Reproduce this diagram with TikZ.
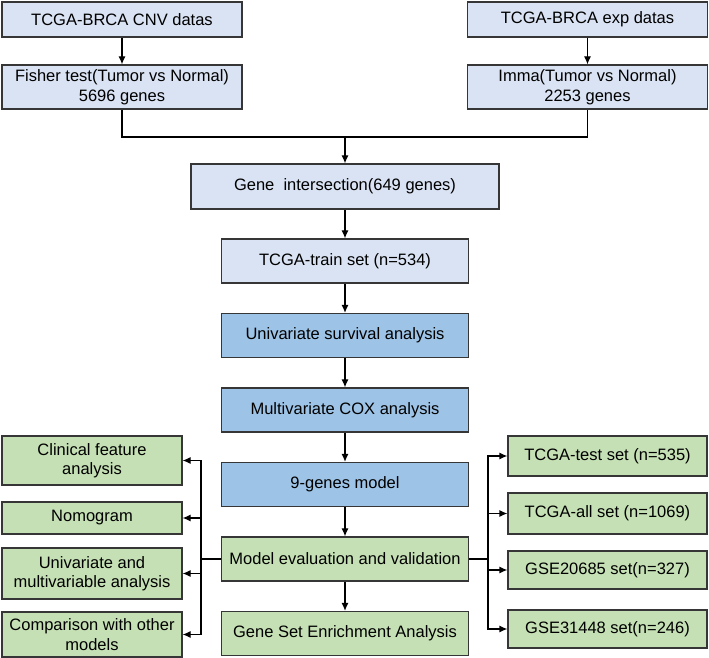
\documentclass[tikz,border=0pt]{standalone}
\usepackage{fontspec}
\setmainfont{Liberation Sans}
\usepackage{xcolor}
\usepackage{tikz}
\usetikzlibrary{arrows.meta}

\definecolor{paleblue}{HTML}{DAE3F3}
\definecolor{midblue}{HTML}{9DC3E6}
\definecolor{palegreen}{HTML}{C5E0B4}
\definecolor{boxline}{HTML}{363636}

\tikzset{
  lightbox/.style={draw=boxline, fill=paleblue, rectangle, line width=1.2pt, align=center, inner sep=0pt},
  bluebox/.style={draw=boxline, fill=midblue, rectangle, line width=1.2pt, align=center, inner sep=0pt},
  greenbox/.style={draw=boxline, fill=palegreen, rectangle, line width=1.2pt, align=center, inner sep=0pt}
}

\begin{document}
\begin{tikzpicture}[x=1pt, y=1pt, node distance=74.5pt, >={Latex[length=8pt,width=7pt]}, line width=1.2pt, font=\fontsize{16.5}{19.5}\selectfont]
    \useasboundingbox (0,0) rectangle (709,658);
    % Nodes
    \node[lightbox, minimum width=240pt, minimum height=35pt] (cnv) at (122,638.5) {TCGA-BRCA CNV datas};
    \node[lightbox, below of=cnv, node distance=67.5pt, minimum width=240pt, minimum height=44pt] (fisher) {Fisher test(Tumor vs Normal)\\5696 genes};
    \node[lightbox, minimum width=240pt, minimum height=35pt] (exp) at (587.5,638.5) {TCGA-BRCA exp datas};
    \node[lightbox, below of=exp, node distance=67.5pt, minimum width=240pt, minimum height=44pt] (imma) {Imma(Tumor vs Normal)\\2253 genes};
    \node[lightbox, minimum width=308pt, minimum height=45pt] (gene) at (345,471.5) {Gene\ \ intersection(649 genes)};
    \node[lightbox, below of=gene, minimum width=247pt, minimum height=44pt] (train) {TCGA-train set (n=534)};
    \node[bluebox, below of=train, minimum width=247pt, minimum height=44pt] (univariate) {Univariate survival analysis};
    \node[bluebox, below of=univariate, minimum width=247pt, minimum height=44pt] (multivariate) {Multivariate COX analysis};
    \node[bluebox, below of=multivariate, minimum width=247pt, minimum height=44pt] (model) {9-genes model};
    \node[greenbox, below of=model, minimum width=247pt, minimum height=44pt] (evaluation) {Model evaluation and validation};
    \node[greenbox, below of=evaluation, minimum width=247pt, minimum height=44pt] (gsea) {Gene Set Enrichment Analysis};

    % Left side
    \node[greenbox, minimum width=180pt, minimum height=49pt] (clinical) at (92,197.5) {Clinical feature\\analysis};
    \node[greenbox, minimum width=180pt, minimum height=32pt] (nomogram) at (92,140) {Nomogram};
    \node[greenbox, minimum width=180pt, minimum height=51pt] (multivar) at (92,84.5) {Univariate and\\multivariable analysis};
    \node[greenbox, minimum width=180pt, minimum height=45pt] (comparison) at (92,23.5) {Comparison with other\\models};

    % Right side
    \node[greenbox, minimum width=199pt, minimum height=40pt] (testset) at (607.5,202) {TCGA-test set (n=535)};
    \node[greenbox, minimum width=199pt, minimum height=41pt] (allset) at (607.5,144.5) {TCGA-all set (n=1069)};
    \node[greenbox, minimum width=199pt, minimum height=38pt] (gseone) at (607.5,88) {GSE20685 set(n=327)};
    \node[greenbox, minimum width=199pt, minimum height=38pt] (gsetwo) at (607.5,29) {GSE31448 set(n=246)};

    \coordinate (merge) at (345,521);
    \coordinate (leftbus) at (201,99);
    \coordinate (rightbus) at (488,99);

    % Arrows
    \draw[->] (cnv) -- (fisher);
    \draw[->] (exp) -- (imma);
    \draw (fisher.south) |- (merge) -| (imma.south);
    \draw[->] (merge) -- (gene);
    \draw[->] (gene) -- (train);
    \draw[->] (train) -- (univariate);
    \draw[->] (univariate) -- (multivariate);
    \draw[->] (multivariate) -- (model);
    \draw[->] (model) -- (evaluation);
    \draw[->] (evaluation) -- (gsea);

    \draw (evaluation.west) -- (leftbus);
    \draw[->] (leftbus) |- (clinical.east);
    \draw[->] (leftbus) |- (nomogram.east);
    \draw[->] (leftbus) |- (multivar.east);
    \draw[->] (leftbus) |- (comparison.east);

    \draw (evaluation.east) -- (rightbus);
    \draw[->] (rightbus) |- (testset.west);
    \draw[->] (rightbus) |- (allset.west);
    \draw[->] (rightbus) |- (gseone.west);
    \draw[->] (rightbus) |- (gsetwo.west);
\end{tikzpicture}
\end{document}
